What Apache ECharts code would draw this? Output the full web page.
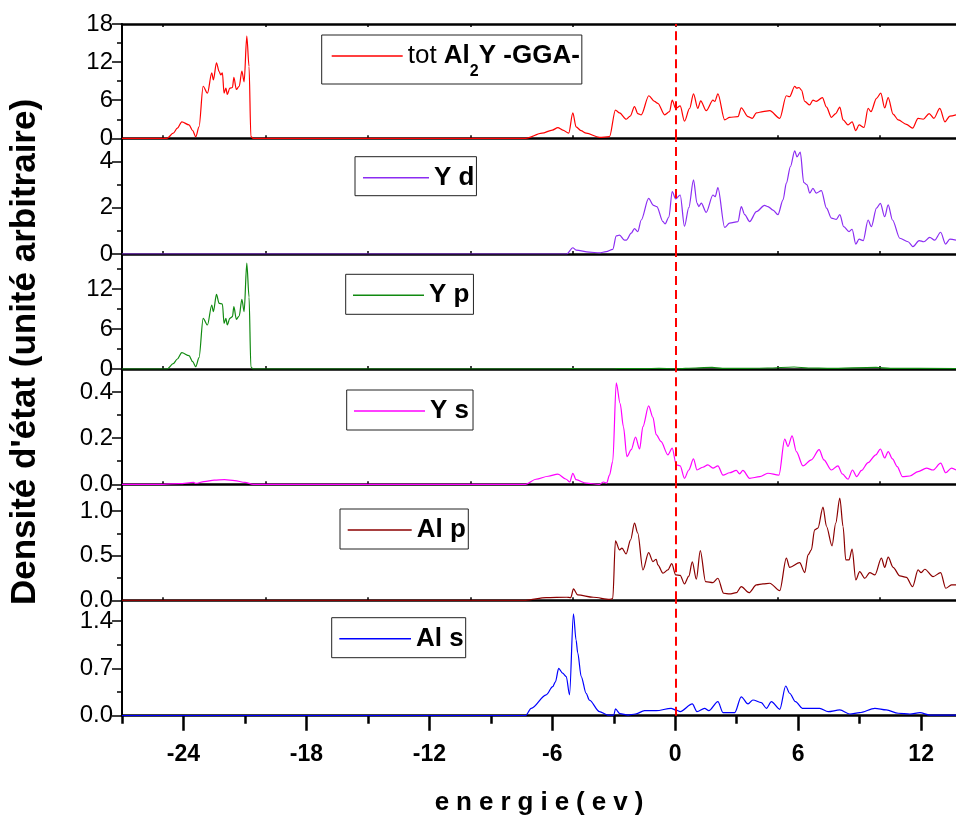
<!DOCTYPE html>
<html>
<head>
<meta charset="utf-8">
<script src="https://cdn.jsdelivr.net/npm/echarts@6/dist/echarts.min.js"></script>
<style>
  html, body { margin: 0; padding: 0; background: #fff; }
  #chart { width: 956px; height: 818px; }
</style>
</head>
<body>
<div id="chart"></div>
<script>
// Energy axis (eV), Fermi level at 0
const energyMin = -27;
const energyMax = 13.7;
const xLabelTicks = [-24, -18, -12, -6, 0, 6, 12];
const xHalfTicks = [-27, -21, -15, -9, -3, 3, 9];
const xInnerTicks = [-25, -20, -15, -10, -5, 0, 5, 10];
const fermiLevel = 0;

// Total DOS of Al2Y (GGA)
const dosTotal = [[-27,0],[-24.8,0],[-24.5,0.8],[-24.3,1.6],[-24.08,2.6],[-23.73,2.1],[-23.55,1.2],[-23.4,0.25],[-23.24,1.8],[-23.04,8.2],[-22.83,7.1],[-22.62,10.3],[-22.54,9.2],[-22.39,11.9],[-22.26,10.5],[-22.18,10.0],[-22.1,10.3],[-22.02,7.1],[-21.93,7.9],[-21.86,6.9],[-21.74,7.9],[-21.61,8.0],[-21.54,9.6],[-21.42,7.7],[-21.28,8.2],[-21.15,10.6],[-21.04,8.9],[-20.91,16.1],[-20.8,11.3],[-20.71,0.25],[-20.6,0],[-7.3,0],[-6.5,0.8],[-6.0,1.3],[-5.73,1.67],[-5.49,1.3],[-5.2,0.8],[-5.0,4.0],[-4.84,1.8],[-4.6,1.2],[-4.35,0.8],[-3.7,0.15],[-3.21,0.25],[-2.92,4.45],[-2.72,4.0],[-2.39,3.0],[-2.2,3.5],[-1.99,5.0],[-1.83,3.9],[-1.66,3.7],[-1.29,6.7],[-1.01,5.8],[-0.85,5.5],[-0.52,3.7],[-0.28,4.2],[-0.15,6.0],[0.02,4.7],[0.24,5.1],[0.45,2.7],[0.7,4.7],[0.89,7.0],[1.1,4.7],[1.24,5.9],[1.51,4.35],[1.84,6.0],[1.93,5.8],[2.08,7.0],[2.41,2.9],[2.65,3.3],[3.06,3.4],[3.22,4.8],[3.55,3.4],[3.76,3.15],[3.96,4.0],[4.28,4.2],[4.61,4.35],[5.1,3.15],[5.42,6.7],[5.58,6.55],[5.83,8.2],[5.92,7.9],[6.04,8.0],[6.16,7.6],[6.32,5.8],[6.56,5.25],[6.72,6.0],[6.88,5.8],[7.18,6.4],[7.38,4.9],[7.62,3.3],[7.83,3.9],[8.03,4.9],[8.19,2.9],[8.43,2.1],[8.63,2.6],[8.81,1.2],[8.97,2.1],[9.21,1.7],[9.41,4.7],[9.55,4.2],[9.82,6.3],[10.03,7.1],[10.22,4.8],[10.39,6.4],[10.63,3.8],[10.88,2.9],[11.28,2.2],[11.58,1.6],[11.85,3.15],[12.1,3.0],[12.39,3.9],[12.62,3.15],[12.91,4.7],[13.16,2.6],[13.4,3.5],[13.7,3.7]];

// Y d partial DOS
const dosYd = [[-27,0],[-5.3,0],[-5.0,0.27],[-4.84,0.17],[-4.2,0.08],[-3.7,0.05],[-3.37,0.1],[-3.05,0.2],[-2.88,0.78],[-2.72,0.82],[-2.48,0.6],[-2.39,0.6],[-2.15,0.9],[-1.99,1.1],[-1.83,0.97],[-1.66,1.47],[-1.3,2.4],[-1.06,2.1],[-0.9,2.05],[-0.6,1.4],[-0.5,1.3],[-0.31,1.6],[-0.15,2.7],[0.02,2.38],[0.24,2.55],[0.45,1.2],[0.66,2.0],[0.89,3.2],[1.06,2.2],[1.15,2.05],[1.27,2.2],[1.51,1.8],[1.84,2.55],[1.95,2.48],[2.08,2.87],[2.41,1.15],[2.65,1.33],[3.06,1.4],[3.22,2.05],[3.39,1.7],[3.63,1.4],[3.96,1.83],[4.36,2.1],[4.52,2.05],[4.77,1.9],[5.01,1.7],[5.26,2.34],[5.42,3.06],[5.62,3.78],[5.83,4.46],[5.94,4.2],[6.1,4.4],[6.27,3.09],[6.43,2.99],[6.56,2.63],[6.72,2.84],[6.88,2.63],[7.13,2.74],[7.38,1.98],[7.62,1.55],[7.86,1.5],[8.03,1.7],[8.22,1.18],[8.48,0.97],[8.63,1.07],[8.81,0.43],[8.97,0.64],[9.17,0.58],[9.41,1.47],[9.57,1.18],[9.82,1.98],[10.01,2.19],[10.22,1.61],[10.39,2.12],[10.6,1.47],[10.96,0.68],[11.36,0.53],[11.6,0.32],[11.9,0.58],[12.13,0.53],[12.42,0.72],[12.66,0.6],[12.95,0.94],[13.19,0.43],[13.4,0.64],[13.7,0.6]];

// Y p partial DOS
const dosYp = [[-27,0],[-24.8,0],[-24.5,0.8],[-24.3,1.5],[-24.08,2.45],[-23.73,2.0],[-23.55,1.1],[-23.4,0.35],[-23.24,1.7],[-23.04,7.6],[-22.83,6.6],[-22.62,9.6],[-22.54,8.6],[-22.39,11.2],[-22.26,9.85],[-22.1,9.75],[-22.02,6.85],[-21.93,7.6],[-21.86,6.6],[-21.74,7.6],[-21.61,7.85],[-21.54,9.35],[-21.42,7.45],[-21.28,7.95],[-21.15,10.45],[-21.04,8.6],[-20.91,15.9],[-20.8,10.8],[-20.71,0.3],[-20.6,0],[-5.3,0],[-5.0,0.05],[-4.6,0],[-3.0,0],[-2.8,0.06],[-1.5,0.05],[-0.8,0.1],[0,0.04],[1,0.15],[1.8,0.25],[2.3,0.1],[3.3,0.08],[4.5,0.15],[5.8,0.3],[6.5,0.15],[7.5,0.1],[9.8,0.25],[10.5,0.1],[13.7,0.05]];

// Y s partial DOS
const dosYs = [[-27,0],[-25,0],[-24.2,0.003],[-23.5,0.008],[-23.4,0.004],[-23.0,0.012],[-22.5,0.018],[-22.0,0.02],[-21.5,0.016],[-21.0,0.008],[-20.6,0],[-7.3,0],[-6.8,0.022],[-6.2,0.035],[-5.73,0.044],[-5.32,0.022],[-5.15,0.01],[-5.0,0.048],[-4.84,0.02],[-4.35,0.005],[-3.7,0],[-3.5,0.01],[-3.35,0.005],[-3.21,0.04],[-3.05,0.1],[-2.88,0.44],[-2.69,0.35],[-2.53,0.25],[-2.36,0.12],[-2.15,0.15],[-1.94,0.205],[-1.74,0.153],[-1.58,0.25],[-1.3,0.34],[-1.09,0.29],[-0.93,0.215],[-0.7,0.186],[-0.36,0.128],[-0.15,0.157],[0.05,0.084],[0.24,0.08],[0.45,0.026],[0.66,0.062],[0.89,0.11],[1.06,0.062],[1.35,0.074],[1.59,0.084],[1.84,0.07],[2.08,0.08],[2.33,0.04],[2.65,0.05],[2.98,0.06],[3.14,0.045],[3.3,0.06],[3.63,0.026],[4.12,0.033],[4.52,0.048],[5.06,0.04],[5.34,0.196],[5.5,0.164],[5.7,0.21],[5.91,0.142],[6.23,0.08],[6.64,0.106],[7.02,0.15],[7.25,0.106],[7.62,0.062],[7.94,0.08],[8.15,0.045],[8.43,0.022],[8.65,0.062],[8.85,0.033],[9.09,0.06],[9.41,0.094],[9.79,0.128],[10.01,0.153],[10.22,0.114],[10.39,0.142],[10.6,0.11],[10.83,0.077],[11.09,0.033],[11.45,0.036],[11.85,0.055],[12.26,0.07],[12.58,0.062],[12.95,0.092],[13.2,0.05],[13.48,0.07],[13.7,0.062]];

// Al p partial DOS
const dosAlp = [[-27,0],[-7.3,0],[-6.3,0.03],[-5.3,0.034],[-5.1,0.03],[-4.97,0.127],[-4.76,0.06],[-4.0,0.034],[-3.2,0.01],[-3.05,0.02],[-2.92,0.667],[-2.72,0.565],[-2.6,0.584],[-2.4,0.52],[-2.18,0.677],[-1.99,0.865],[-1.83,0.753],[-1.58,0.34],[-1.3,0.535],[-1.09,0.434],[-0.93,0.46],[-0.85,0.397],[-0.6,0.303],[-0.36,0.34],[-0.17,0.41],[0.02,0.284],[0.24,0.28],[0.45,0.183],[0.66,0.27],[0.83,0.43],[1.03,0.236],[1.22,0.557],[1.48,0.209],[1.84,0.198],[2.08,0.247],[2.36,0.079],[2.65,0.071],[2.98,0.085],[3.22,0.153],[3.6,0.085],[3.96,0.172],[4.28,0.183],[4.61,0.191],[5.1,0.108],[5.42,0.472],[5.58,0.37],[6.07,0.422],[6.32,0.31],[6.48,0.509],[6.64,0.565],[6.8,0.79],[6.96,0.809],[7.21,1.045],[7.38,0.827],[7.65,0.61],[7.83,0.865],[8.03,1.146],[8.19,0.824],[8.32,0.453],[8.48,0.453],[8.63,0.573],[8.81,0.228],[9.0,0.321],[9.25,0.247],[9.49,0.31],[9.74,0.284],[10.06,0.472],[10.22,0.37],[10.39,0.483],[10.63,0.37],[10.96,0.273],[11.28,0.258],[11.58,0.153],[11.85,0.34],[12.0,0.31],[12.18,0.348],[12.58,0.265],[12.95,0.31],[13.2,0.135],[13.48,0.172],[13.7,0.172]];

// Al s partial DOS
const dosAls = [[-27,0],[-7.31,0],[-7.03,0.11],[-6.3,0.31],[-5.98,0.43],[-5.85,0.5],[-5.69,0.7],[-5.5,0.63],[-5.32,0.58],[-5.16,0.31],[-4.97,1.51],[-4.84,1.12],[-4.76,0.93],[-4.59,0.58],[-4.35,0.33],[-4.19,0.23],[-3.7,0.06],[-3.3,0.01],[-3.0,0.01],[-2.92,0.1],[-2.7,0.03],[-2.3,0.01],[-1.95,0.025],[-1.5,0.074],[-0.93,0.074],[-0.2,0.11],[0.02,0.085],[0.24,0.06],[0.83,0.174],[1.06,0.06],[1.43,0.11],[1.64,0.074],[2.08,0.208],[2.33,0.045],[2.9,0.045],[3.22,0.28],[3.55,0.174],[3.79,0.233],[4.2,0.193],[4.45,0.11],[4.69,0.208],[5.1,0.095],[5.39,0.44],[5.58,0.333],[5.87,0.208],[6.2,0.11],[6.64,0.11],[7.05,0.11],[7.46,0.06],[8.03,0.085],[8.52,0.025],[9.0,0.045],[9.74,0.11],[10.3,0.085],[10.88,0.036],[11.45,0.025],[11.94,0.045],[12.42,0.01],[13.7,0.01]];

// Panel definitions (top to bottom)
const seriesNames = ['tot Al2Y -GGA-', 'Y d', 'Y p', 'Y s', 'Al p', 'Al s'];
const legendLabels = ['{n|tot }{b|Al}{s|2}{b|Y -GGA-}', 'Y d', 'Y p', 'Y s', 'Al p', 'Al s'];
const seriesData = [dosTotal, dosYd, dosYp, dosYs, dosAlp, dosAls];
const yMax = [18, 5, 17.25, 0.5, 1.3, 1.71];
const yStep = [6, 2, 6, 0.2, 0.5, 0.7];
const yDigits = [0, 0, 0, 1, 1, 1];
const yTitle = "Densité d'état (unité arbitraire)";
const xTitle = 'energie(ev)';

// Styling and layout
const colors = ['#ff0000', '#8b2cf2', '#108a10', '#ff00ff', '#8b0000', '#0000ff'];
const panelTop = [24, 138.3, 254, 369, 484.3, 600.3];
const panelHeight = [114.3, 115.7, 115, 115.3, 116, 115.4];
const plotLeft = 122, plotWidth = 834;
const legendLeft = [321.7, 355, 345.7, 346.7, 340, 331.7];
const legendTop = [35, 156.7, 274.3, 390, 509, 617.7];
const legendLine = [71, 66, 71, 71, 64, 71.7];
const legendPad = [[8, 2, 4, 10], [8, 2, 5, 8], [8, 4, 6, 7.3], [8, 4, 6, 7.3], [8, 2.5, 6, 7.7], [8, 2, 6, 7.6]];
const FONT = '"Liberation Sans", Arial, sans-serif';

const chart = echarts.init(document.getElementById('chart'), null, { renderer: 'canvas' });

const isMultiple = (v, step) => Math.abs(v / step - Math.round(v / step)) < 1e-6;

const grids = [], xAxes = [], yAxes = [], series = [], legends = [];

for (let i = 0; i < 6; i++) {
  const last = i === 5;
  grids.push({ left: plotLeft, width: plotWidth, top: panelTop[i], height: panelHeight[i], outerBoundsMode: 'none', containLabel: false });

  xAxes.push({
    type: 'value', gridIndex: i, min: energyMin, max: energyMax, position: 'bottom',
    axisLine: { show: true, onZero: false, lineStyle: { color: '#000', width: 2.5 } },
    axisTick: last
      ? { show: true, inside: false, length: 15, customValues: xLabelTicks, lineStyle: { color: '#000', width: 2.5 } }
      : { show: true, inside: true, length: 3, customValues: xInnerTicks, lineStyle: { color: '#000', width: 1.5 } },
    axisLabel: last
      ? { show: true, customValues: xLabelTicks, margin: 27, color: '#000', fontFamily: FONT, fontSize: 23, fontWeight: 'bold' }
      : { show: false },
    splitLine: { show: false },
    name: last ? xTitle.split('').map(c => '{c|' + c + '}').join('') : '',
    nameLocation: 'middle', nameGap: 74,
    nameTextStyle: { rich: { c: { fontFamily: FONT, fontSize: 26, fontWeight: 'bold', color: '#000', padding: [0, 3.5] } } }
  });

  yAxes.push({
    type: 'value', gridIndex: i, min: 0, max: yMax[i], interval: yStep[i],
    axisLine: { show: true, onZero: false, lineStyle: { color: '#000', width: 2 } },
    axisTick: { show: true, inside: false, length: 10, lineStyle: { color: '#000', width: 1.5 } },
    minorTick: { show: true, splitNumber: 2, length: 5, lineStyle: { color: '#000', width: 1.5 } },
    axisLabel: {
      margin: 9, color: '#000', fontFamily: FONT, fontSize: 24,
      formatter: (v) => isMultiple(v, yStep[i]) ? Number(v).toFixed(yDigits[i]) : ''
    },
    splitLine: { show: false }
  });

  series.push({
    name: seriesNames[i], type: 'line', xAxisIndex: i, yAxisIndex: i,
    data: seriesData[i], showSymbol: false, symbol: 'none',
    smooth: 0.3, smoothMonotone: 'x',
    lineStyle: { color: colors[i], width: 1.2 },
    itemStyle: { color: colors[i] },
    z: 3,
    markLine: {
      silent: true, symbol: ['none', 'none'], label: { show: false },
      lineStyle: { color: '#ff0000', type: [9, 5], width: 2 },
      data: [{ xAxis: fermiLevel }]
    }
  });

  legends.push({
    data: [{ name: seriesNames[i], icon: 'rect' }],
    left: legendLeft[i], top: legendTop[i], orient: 'horizontal',
    padding: legendPad[i], borderColor: '#222', borderWidth: 1, backgroundColor: '#fff',
    itemWidth: legendLine[i], itemHeight: 1.4, selectedMode: false,
    itemStyle: { color: colors[i], borderWidth: 0 },
    formatter: () => legendLabels[i],
    textStyle: {
      color: '#000', fontFamily: FONT, fontSize: 26, fontWeight: 'bold',
      rich: {
        n: { fontFamily: FONT, fontSize: 26, fontWeight: 'normal', color: '#000', verticalAlign: 'middle' },
        b: { fontFamily: FONT, fontSize: 26, fontWeight: 'bold', color: '#000', verticalAlign: 'middle' },
        s: { fontFamily: FONT, fontSize: 16, fontWeight: 'bold', color: '#000', verticalAlign: 'bottom', padding: [32, 0, 0, 0] }
      }
    }
  });
}

// Top frame line of the first panel
xAxes.push({
  type: 'value', gridIndex: 0, min: energyMin, max: energyMax, position: 'top',
  axisLine: { show: true, onZero: false, lineStyle: { color: '#000', width: 2.5 } },
  axisTick: { show: true, inside: true, length: 3, customValues: xInnerTicks, lineStyle: { color: '#000', width: 1.5 } },
  axisLabel: { show: false }, splitLine: { show: false }
});
// Shorter intermediate ticks on the energy axis
xAxes.push({
  type: 'value', gridIndex: 5, min: energyMin, max: energyMax, position: 'bottom',
  axisLine: { show: false, onZero: false },
  axisTick: { show: true, inside: false, length: 8, customValues: xHalfTicks, lineStyle: { color: '#000', width: 2.5 } },
  axisLabel: { show: false }, splitLine: { show: false }
});

chart.setOption({
  animation: false,
  backgroundColor: '#fff',
  grid: grids,
  xAxis: xAxes,
  yAxis: yAxes,
  series: series,
  legend: legends,
  graphic: [{
    type: 'text', x: 25, y: 352, rotation: Math.PI / 2,
    style: { text: yTitle, fontFamily: FONT, fontSize: 35, fontWeight: 'bold', fill: '#000', align: 'center', verticalAlign: 'middle' }
  }]
});
</script>
</body>
</html>
